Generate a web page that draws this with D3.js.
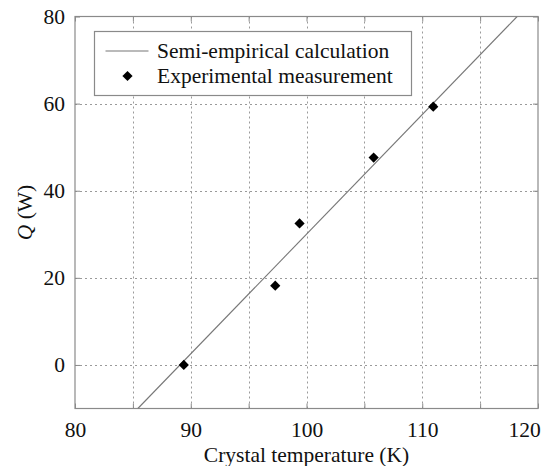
<!DOCTYPE html>
<html>
<head>
<meta charset="utf-8">
<script src="https://cdn.jsdelivr.net/npm/d3@7"></script>
<style>
	body { margin: 0; background: white; }
	svg text { font-family: 'Liberation Serif', serif !important; }
</style>
</head>
<body>
<svg id="chart"></svg>
<script>
(function(){

	//Data
	var measT = [89.4, 97.3, 99.4, 105.8, 110.95];	//crystal temperature (K)
	var measQ = [0, 18.2, 32.5, 47.6, 59.3];		//Q (W)
	var calcT = [85.43, 118.2];						//semi-empirical line ends
	var calcQ = [-10, 80];
	var xTickLabels = [80, 90, 100, 110, 120];
	var yTickLabels = [0, 20, 40, 60, 80];
	var xGrid = [85, 90, 95, 100, 105, 110, 115];
	var yGrid = [0, 20, 40, 60];
	var legendNames = ["Semi-empirical calculation", "Experimental measurement"];

	//SVG Configurations
	var svgWidth = 549;
	var svgHeight = 466;
	var margin = {left: 75, right: 10, top: 16.5, bottom: 57.5};
	var frameColor = "#8a8a8a";
	var fontSize = "21.5px";
	var serif = "'Liberation Serif', serif";

	var svg = d3.select("#chart")
	.attr("width", svgWidth)
	.attr("height", svgHeight);

	var x = d3.scaleLinear().domain([80, 120]).range([margin.left, svgWidth - margin.right - 1]);
	var y = d3.scaleLinear().domain([-10, 80]).range([svgHeight - margin.bottom, margin.top]);

	//applies the serif face to a text selection
	function serifText(sel){
		sel.attr("font-family", serif)
		.style("font-family", serif, "important")
		.attr("font-size", fontSize)
		.attr("fill", "#111");
	}

	//Grid lines (dotted)
	var grid = svg.append("g").attr("stroke", "#9a9a9a").attr("stroke-width", 1).attr("stroke-dasharray", "2,3");
	grid.selectAll(".vgrid").data(xGrid).enter().append("line")
	.attr("x1", function(d){ return Math.round(x(d)) + 0.5; })
	.attr("x2", function(d){ return Math.round(x(d)) + 0.5; })
	.attr("y1", y(-10)).attr("y2", y(80));
	grid.selectAll(".hgrid").data(yGrid).enter().append("line")
	.attr("y1", function(d){ return Math.round(y(d)) + 0.5; })
	.attr("y2", function(d){ return Math.round(y(d)) + 0.5; })
	.attr("x1", x(80)).attr("x2", x(120));

	//Axes, ticks pointing inward on all sides
	function styleAxis(g){
		g.attr("font-family", serif);
		g.select(".domain").remove();
		g.selectAll(".tick line").attr("stroke", frameColor);
		g.selectAll(".tick text").call(serifText);
	}
	var xTicks = [80, 85, 90, 95, 100, 105, 110, 115, 120];
	var xAxisG = svg.append("g").attr("transform", "translate(0," + y(-10) + ")")
	.call(d3.axisBottom(x).tickValues(xTicks).tickSizeInner(-5).tickSizeOuter(0).tickPadding(13)
		.tickFormat(function(d){ return xTickLabels.indexOf(d) >= 0 ? d : ""; }))
	.call(styleAxis);
	//last label pulled in so it stays inside the picture
	xAxisG.selectAll(".tick text").filter(function(d){ return d === 120; })
	.attr("text-anchor", "end").attr("dx", "0.1em");

	svg.append("g").attr("transform", "translate(0," + y(80) + ")")
	.call(d3.axisTop(x).tickValues(xTicks).tickSizeInner(-5).tickSizeOuter(0).tickFormat(""))
	.call(styleAxis);
	svg.append("g").attr("transform", "translate(" + x(80) + ",0)")
	.call(d3.axisLeft(y).tickValues(yTickLabels).tickSizeInner(-5).tickSizeOuter(0).tickPadding(10))
	.call(styleAxis);
	svg.append("g").attr("transform", "translate(" + x(120) + ",0)")
	.call(d3.axisRight(y).tickValues(yTickLabels).tickSizeInner(-5).tickSizeOuter(0).tickFormat(""))
	.call(styleAxis);

	//Frame
	svg.append("rect")
	.attr("x", x(80)).attr("y", y(80))
	.attr("width", x(120) - x(80)).attr("height", y(-10) - y(80))
	.attr("fill", "none").attr("stroke", frameColor).attr("stroke-width", 1.2);

	//Clip for the calculation line
	svg.append("clipPath").attr("id", "plotClip").append("rect")
	.attr("x", x(80)).attr("y", y(80))
	.attr("width", x(120) - x(80)).attr("height", y(-10) - y(80));

	var calcData = calcT.map(function(t, i){ return {t: t, q: calcQ[i]}; });
	var line = d3.line().x(function(d){ return x(d.t); }).y(function(d){ return y(d.q); });
	svg.append("path")
	.datum(calcData)
	.attr("d", line)
	.attr("clip-path", "url(#plotClip)")
	.attr("fill", "none")
	.attr("stroke", "#777")
	.attr("stroke-width", 1.1);

	//Measured points as diamonds
	var diamond = d3.symbol().type(d3.symbolSquare).size(52);
	var measData = measT.map(function(t, i){ return {t: t, q: measQ[i]}; });
	svg.selectAll(".meas").data(measData).enter().append("path")
	.attr("d", diamond)
	.attr("transform", function(d){ return "translate(" + x(d.t) + "," + y(d.q) + ") rotate(45)"; })
	.attr("fill", "black");

	//Legend
	var legend = svg.append("g").attr("transform", "translate(94.5,31.5)");
	legend.append("rect")
	.attr("width", 317).attr("height", 64)
	.attr("fill", "white").attr("stroke", frameColor).attr("stroke-width", 1.2);
	legend.append("line")
	.attr("x1", 11).attr("x2", 54).attr("y1", 19.5).attr("y2", 19.5)
	.attr("stroke", "#777").attr("stroke-width", 1.1);
	legend.append("path")
	.attr("d", diamond)
	.attr("transform", "translate(33,44.5) rotate(45)")
	.attr("fill", "black");
	legend.selectAll(".legText").data(legendNames).enter().append("text")
	.attr("x", 62.5)
	.attr("y", function(d, i){ return 26 + i * 25; })
	.call(serifText)
	.text(function(d){ return d; });

	//Axis titles
	svg.append("text")
	.attr("x", (x(80) + x(120)) / 2)
	.attr("y", 462)
	.attr("text-anchor", "middle")
	.call(serifText)
	.text("Crystal temperature (K)");

	var yTitle = svg.append("text")
	.attr("transform", "translate(32," + ((y(-10) + y(80)) / 2) + ") rotate(-90)")
	.attr("text-anchor", "middle")
	.call(serifText);
	yTitle.append("tspan").attr("font-style", "italic").text("Q");
	yTitle.append("tspan").text(" (W)");

})();
</script>
</body>
</html>
